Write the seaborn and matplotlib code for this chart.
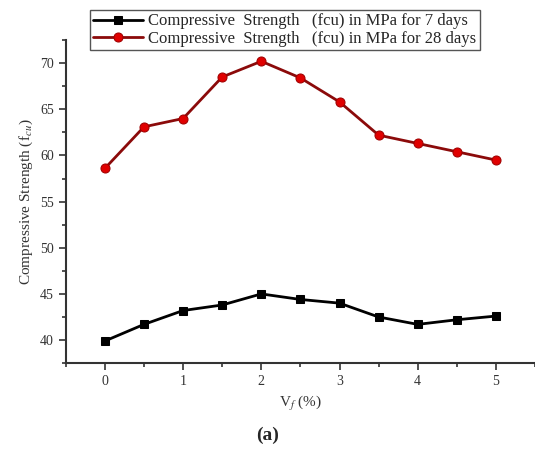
import pandas as pd
import seaborn as sns
import matplotlib.pyplot as plt
from matplotlib.ticker import MultipleLocator

# fibre volume fraction (%)
vf = [0, 0.5, 1, 1.5, 2, 2.5, 3, 3.5, 4, 4.5, 5]
fcu_7 = [39.9, 41.7, 43.2, 43.8, 45.0, 44.4, 44.0, 42.5, 41.7, 42.2, 42.6]
fcu_28 = [58.6, 63.1, 64.0, 68.5, 70.2, 68.4, 65.8, 62.2, 61.3, 60.4, 59.5]

label_7 = "Compressive  Strength   (fcu) in MPa for 7 days"
label_28 = "Compressive  Strength   (fcu) in MPa for 28 days"

sns.set_theme(style="ticks")
plt.rcParams['font.family'] = ['Liberation Serif', 'DejaVu Serif']
plt.rcParams['mathtext.fontset'] = 'stix'

fig = plt.figure(figsize=(5.35, 4.5), dpi=100)
ax = fig.add_axes([0.123, 0.193, 0.877, 0.718])

df7 = pd.DataFrame({'vf': vf, 'fcu': fcu_7})
df28 = pd.DataFrame({'vf': vf, 'fcu': fcu_28})

sns.lineplot(x='vf', y='fcu', data=df7, ax=ax, color='black', marker='s',
             markersize=6, markerfacecolor='black', markeredgecolor='black',
             linewidth=2, label=label_7)
sns.lineplot(x='vf', y='fcu', data=df28, ax=ax, color='#8b0a0a', marker='o',
             markersize=6.5, markerfacecolor='#e00000', markeredgecolor='#a00000',
             linewidth=2, label=label_28)

ax.set_xlim(-0.5, 5.5)
ax.set_ylim(37.5, 72.5)
ax.xaxis.set_major_locator(MultipleLocator(1))
ax.xaxis.set_minor_locator(MultipleLocator(0.5))
ax.yaxis.set_major_locator(MultipleLocator(5))
ax.yaxis.set_minor_locator(MultipleLocator(2.5))
ax.tick_params(which='major', direction='out', length=5, width=1.2, labelsize=10, colors='#333333')
ax.tick_params(which='minor', direction='out', length=3, width=1.2, colors='#333333')
for s in ['top', 'right']:
    ax.spines[s].set_visible(False)
for s in ['left', 'bottom']:
    ax.spines[s].set_linewidth(1.5)
    ax.spines[s].set_color('#333333')

ax.set_xlabel(r"V$_f$ (%)", fontsize=11, color='#333333')
ax.set_ylabel(r"Compressive Strength (f$_{cu}$)", fontsize=11, color='#333333')

leg = ax.legend(loc='upper left', bbox_to_anchor=(0.051, 1.093), fontsize=12,
                frameon=True, fancybox=False, edgecolor='#555555', framealpha=1,
                handlelength=3, handletextpad=0.3, borderpad=0.2,
                labelspacing=0.1, borderaxespad=0)
leg.get_frame().set_linewidth(1.0)

fig.text(0.5, 0.033, "(a)", ha='center', va='center', fontsize=14, fontweight='bold')

fig.savefig("out.png", dpi=100)
